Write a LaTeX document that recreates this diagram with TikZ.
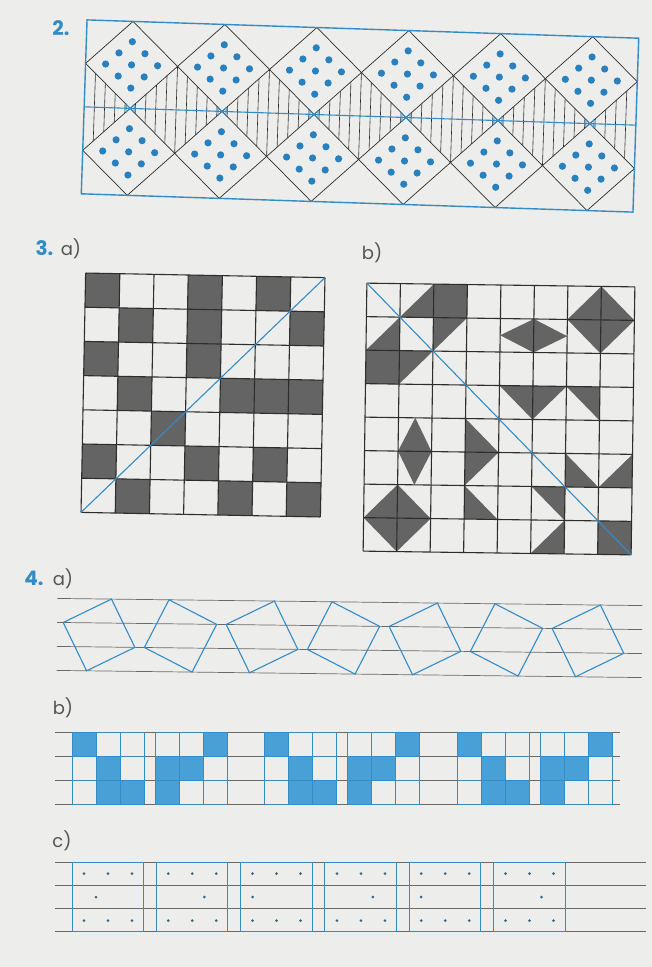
\documentclass[tikz,border=0pt]{standalone}
\usepackage{fontspec}
\newfontfamily\numfont{Poppins}
\newfontfamily\labfont{Poppins}
\definecolor{bg}{RGB}{237,237,235}
\definecolor{bl}{RGB}{52,140,198}
\definecolor{dotb}{RGB}{40,128,190}
\definecolor{shd}{RGB}{100,100,100}
\definecolor{bfillc}{RGB}{72,160,214}
\definecolor{rulec}{RGB}{105,105,105}
\definecolor{darkl}{RGB}{45,45,45}
\definecolor{labg}{RGB}{85,85,85}
\definecolor{smdot}{RGB}{55,105,135}
\begin{document}
\begin{tikzpicture}[x=1pt,y=-1pt,
  numlab/.style={text=bl,font=\numfont\bfseries\fontsize{20}{24}\selectfont,inner sep=0pt},
  sublab/.style={text=labg,font=\labfont\fontsize{18}{22}\selectfont,inner sep=0pt},
  frameline/.style={draw=bl,line width=1.4pt},
  dline/.style={draw=darkl,line width=0.7pt},
  hatchline/.style={draw=darkl,line width=0.6pt},
  blueline/.style={draw=bl,line width=1.1pt},
  gridline/.style={draw=darkl,line width=1.1pt},
  shadecell/.style={fill=shd},
  rulel/.style={draw=rulec,line width=0.7pt},
  sqline/.style={draw=bl,line width=1.1pt},
  bgridl/.style={draw=bl,line width=0.9pt},
  smalldot/.style={fill=smdot}]
\fill[bg] (0,0) rectangle (652,967);
\useasboundingbox (0,0) rectangle (652,967);

% ---------- labels ----------
\node[numlab] (n2) at (61,28) {2.};
\node[numlab] (n3) at (44.5,248) {3.};
\node[sublab] (a3) at (71,249) {a)};
\node[sublab] (b3) at (372,253) {b)};
\node[numlab] (n4) at (34,578) {4.};
\node[sublab] (a4) at (63,579) {a)};
\node[sublab] (b4) at (63,708) {b)};
\node[sublab] (c4) at (62,841) {c)};

% ---------- exercise 2 ----------
\begin{scope}[rotate around={-1.9:(360,116)}]
  % hatching in gap diamonds
  \foreach \k in {1,...,5} {
    \foreach \j in {-4,...,4} {
      \draw[hatchline] ({84+92*\k+10.2*\j},{116-43.5*(1-abs(\j)*10.2/46)}) -- ({84+92*\k+10.2*\j},{116+43.5*(1-abs(\j)*10.2/46)});
    }
  }
  \foreach \j in {1,...,4} {
    \draw[hatchline] ({84+10.2*\j},{116-43.5*(1-\j*10.2/46)}) -- ({84+10.2*\j},{116+43.5*(1-\j*10.2/46)});
    \draw[hatchline] ({636-10.2*\j},{116-43.5*(1-\j*10.2/46)}) -- ({636-10.2*\j},{116+43.5*(1-\j*10.2/46)});
  }
  % diamonds with dots
  \foreach \k in {0,...,5} {
    \foreach \cy in {72.5,159.5} {
      \draw[dline] ({130+92*\k},{\cy-43.5}) -- ({176+92*\k},\cy) -- ({130+92*\k},{\cy+43.5}) -- ({84+92*\k},\cy) -- cycle;
      \foreach \u in {-1,0,1} {
        \foreach \v in {-1,0,1} {
          \fill[dotb] ({130+92*\k+13*\u-13*\v},{\cy+11.6*\u+11.6*\v}) circle (3.6pt);
        }
      }
    }
  }
  % middle line and bow ties
  \draw[blueline] (84,116) -- (636,116);
  \foreach \k in {0,...,5} {
    \draw[draw=bl,line width=0.8pt] ({126+92*\k},112) -- ({134+92*\k},120) -- ({134+92*\k},112) -- ({126+92*\k},120) -- cycle;
  }
  \draw[frameline] (84,29) rectangle (636,203);
\end{scope}

% ---------- exercise 3a ----------
\begin{scope}[rotate around={-1.1:(203,395)}]
\begin{scope}[shift={(83.3,275.3)}]
\begin{scope}[x=34.2pt,y=-34.2pt]
  \foreach \r/\c in {0/0,0/3,0/5,1/1,1/3,1/6,2/0,2/3,3/1,3/4,3/5,3/6,4/2,5/0,5/3,5/5,6/1,6/4,6/6} {
    \fill[shadecell] (\c,\r) rectangle ++(1,1);
  }
  \foreach \i in {0,...,7} {
    \draw[gridline] (\i,0) -- (\i,7);
    \draw[gridline] (0,\i) -- (7,\i);
  }
  \draw[blueline] (0,7) -- (7,0);
\end{scope}
\end{scope}
\end{scope}

% ---------- exercise 3b ----------
\begin{scope}[rotate around={-0.8:(499,419)}]
\begin{scope}[shift={(365,285)}]
\begin{scope}[x=33.5pt,y=-33.5pt]
  \fill[shadecell] (1,1) -- (2,0) -- (2,1) -- cycle;
  \fill[shadecell] (2,0) rectangle (3,1);
  \fill[shadecell] (7,0) -- (8,1) -- (7,2) -- (6,1) -- cycle;
  \fill[shadecell] (0,2) -- (1,1) -- (1,2) -- cycle;
  \fill[shadecell] (2,1) -- (3,1) -- (2,2) -- cycle;
  \fill[shadecell] (4,1.5) -- (5,1) -- (6,1.5) -- (5,2) -- cycle;
  \fill[shadecell] (0,2) rectangle (1,3);
  \fill[shadecell] (1,2) -- (2,2) -- (1,3) -- cycle;
  \fill[shadecell] (4,3) -- (6,3) -- (5,4) -- cycle;
  \fill[shadecell] (6,3) -- (7,3) -- (7,4) -- cycle;
  \fill[shadecell] (1.5,4) -- (2,5) -- (1.5,6) -- (1,5) -- cycle;
  \fill[shadecell] (3,4) -- (4,5) -- (3,6) -- cycle;
  \fill[shadecell] (6,5) -- (6,6) -- (7,6) -- cycle;
  \fill[shadecell] (7,6) -- (8,5) -- (8,6) -- cycle;
  \fill[shadecell] (1,6) -- (2,7) -- (1,8) -- (0,7) -- cycle;
  \fill[shadecell] (3,6) -- (3,7) -- (4,7) -- cycle;
  \fill[shadecell] (5,6) -- (6,6) -- (6,7) -- cycle;
  \fill[shadecell] (5,8) -- (6,7) -- (6,8) -- cycle;
  \fill[shadecell] (7,7) rectangle (8,8);
  \foreach \i in {0,...,8} {
    \draw[gridline] (\i,0) -- (\i,8);
    \draw[gridline] (0,\i) -- (8,\i);
  }
  \draw[blueline] (0,0) -- (8,8);
\end{scope}
\end{scope}
\end{scope}

% ---------- exercise 4a ----------
\begin{scope}[rotate around={-0.7:(350,638)}]
  \foreach \y in {602,626,650,674} {
    \draw[rulel] (57,\y) -- (642,\y);
  }
  \foreach \k in {0,2,4,6} {
    \pgfmathsetmacro\xl{63+81.5*\k}
    \draw[sqline] (\xl,626) -- ({\xl+48},602) -- ({\xl+72},650) -- ({\xl+24},674) -- cycle;
  }
  \foreach \k in {1,3,5} {
    \pgfmathsetmacro\xl{63+81.5*\k}
    \draw[sqline] (\xl,650) -- ({\xl+24},602) -- ({\xl+72},626) -- ({\xl+48},674) -- cycle;
  }
\end{scope}

% ---------- exercise 4b ----------
\foreach \y in {732,756,780,804} {
  \draw[rulel] (55,\y) -- (620,\y);
}
\foreach \bx in {72,264.5,457} {
  \foreach \r/\c in {0/0,1/1,2/1,2/2} {
    \fill[bfillc] ({\bx+24*\c},{732+24*\r}) rectangle ++(24,24);
  }
}
\foreach \bx in {155,347.5,540} {
  \foreach \r/\c in {0/2,1/0,1/1,2/0} {
    \fill[bfillc] ({\bx+24*\c},{732+24*\r}) rectangle ++(24,24);
  }
}
\foreach \bx in {72,155,264.5,347.5,457,540} {
  \foreach \i in {0,...,3} {
    \draw[bgridl] ({\bx+24*\i},732) -- ({\bx+24*\i},804);
    \draw[bgridl] (\bx,{732+24*\i}) -- ({\bx+72},{732+24*\i});
  }
}

% ---------- exercise 4c ----------
\foreach \y in {862,885.2,908.4,931.6} {
  \draw[rulel] (55,\y) -- (646,\y);
}
\foreach \k/\m in {0/24,1/48,2/12,3/48,4/12,5/48} {
  \pgfmathsetmacro\rx{72+84.3*\k}
  \draw[bgridl] (\rx,862) rectangle ({\rx+71.5},931.6);
  \foreach \d in {12,36,60} {
    \fill[smalldot] ({\rx+\d},873.6) circle (1.5pt);
    \fill[smalldot] ({\rx+\d},920.6) circle (1.5pt);
  }
  \fill[smalldot] ({\rx+\m},897) circle (1.5pt);
}
\end{tikzpicture}
\end{document}
